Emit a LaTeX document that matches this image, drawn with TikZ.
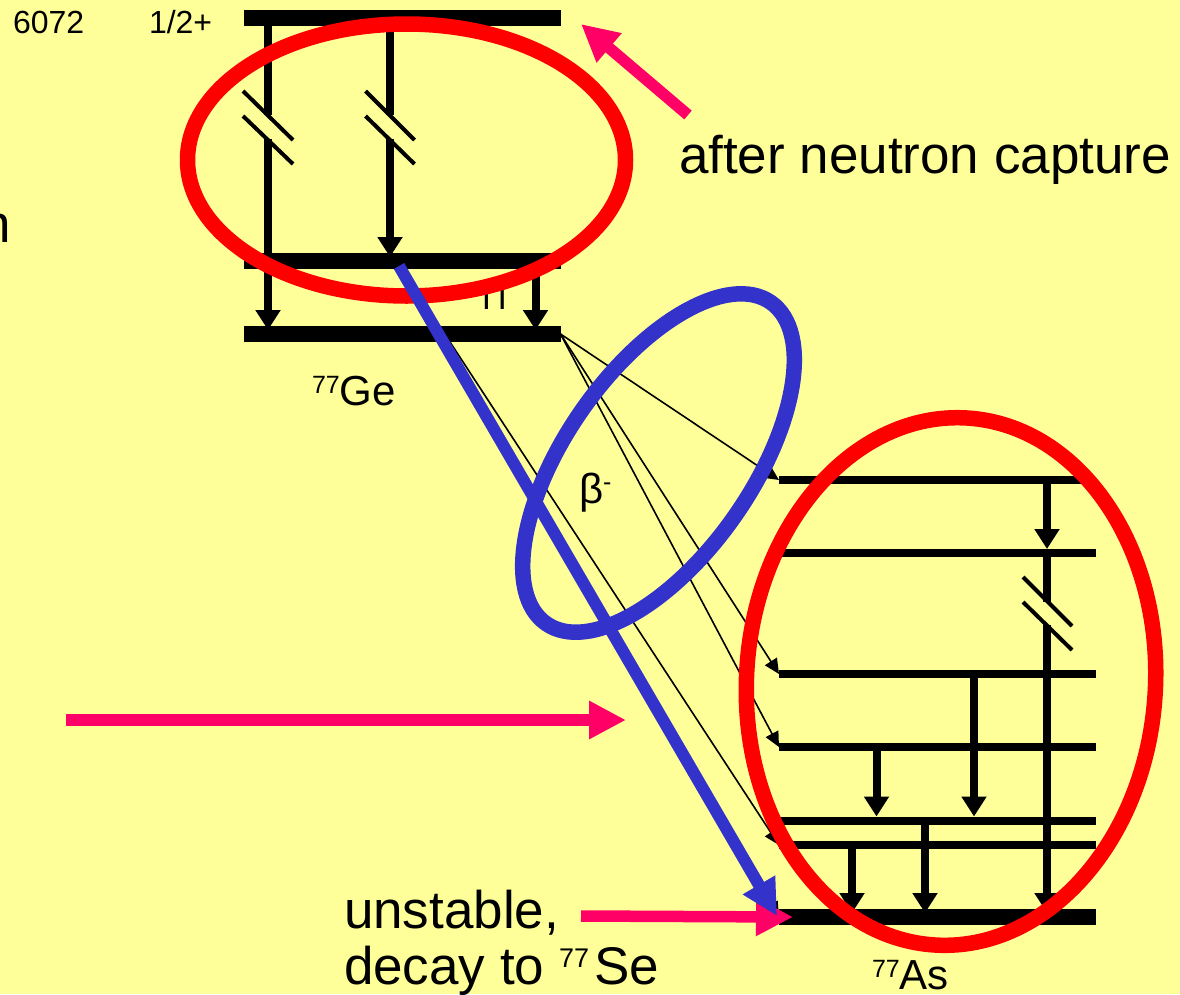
\documentclass[tikz,border=0pt]{standalone}
\usepackage{fontspec}
\setmainfont{Liberation Sans}
\usetikzlibrary{arrows.meta,shapes.geometric}
\definecolor{bgy}{HTML}{FFFF99}
\definecolor{pinkarrow}{HTML}{FF0066}
\definecolor{bluering}{HTML}{3333CC}
\newcommand{\fsz}[1]{\fontsize{#1}{#1}\selectfont}
\newcommand{\supn}[2]{\raisebox{#2}{\fsz{25}#1}}
\tikzset{
  lvl/.style={fill=black,inner sep=0pt,outer sep=0pt,minimum width=316.5pt,anchor=west},
  thicklvl/.style={lvl,minimum height=16pt},
  thinlvl/.style={lvl,minimum height=8pt},
  gam/.style={line width=8pt,-{Triangle[length=20pt,width=24pt]}},
  gamlong/.style={gam,shorten >=-4pt},
  gamplain/.style={line width=8pt},
  brk/.style={line width=4pt},
  betaline/.style={line width=1.6pt,-{Triangle[length=15pt,width=14pt]}},
  ring/.style={ellipse,draw,line width=15.5pt,inner sep=0pt,outer sep=0pt},
  pinka/.style={pinkarrow,line width=11.5pt,-{Triangle[length=37pt,width=36pt]}},
  bluea/.style={bluering,line width=12pt,-{Triangle[length=36pt,width=35pt]}},
  txt/.style={inner sep=0pt,outer sep=0pt,anchor=base west,text=black},
  small/.style={txt,font=\fsz{32}},
  mid/.style={txt,font=\fsz{42}},
  big/.style={txt,font=\fsz{53}},
}
\begin{document}
\begin{tikzpicture}[x=1pt,y=-1pt]
\useasboundingbox (0,0) rectangle (1180,994);
\fill[bgy] (0,0) rectangle (1180,994);

% text
\node[small] (e) at (13,33) {6072};
\node[small] (jp) at (149,33) {1/2+};
\node[big,anchor=base east] (clipn) at (11,242) {n};
\node[small,font=\fsz{34}] (pi) at (482,309) {Π};
\node[mid] (ge) at (312,405) {\supn{77}{12pt}Ge};
\node[mid] (beta) at (579,503) {β\supn{-}{13pt}};
\node[mid] (as) at (872,989) {\supn{77}{12pt}As};
\node[big] (cap) at (679,173) {after neutron capture};
\node[big] (un) at (344,928) {unstable,};
\node[big] (dec) at (344,984) {decay to \raisebox{17pt}{\fsz{27}77}\kern5pt Se};

% levels
\node[thicklvl] (g1) at (244,18) {};
\node[thicklvl] (g2) at (244,261) {};
\node[thicklvl] (g3) at (244,334) {};
\node[thinlvl,minimum width=304pt] (a1) at (779,480) {};
\node[thinlvl] (a2) at (779,553) {};
\node[thinlvl] (a3) at (779,674) {};
\node[thinlvl] (a4) at (779,747) {};
\node[thinlvl] (a5) at (779,820.5) {};
\node[thinlvl] (a6) at (779,845) {};
\node[thicklvl] (a7) at (779,917) {};

% breaks on gamma lines
\coordinate (b1a) at (268,115); \coordinate (b1b) at (268,139);
\coordinate (b2a) at (390,115); \coordinate (b2b) at (390,139);
\coordinate (b3a) at (1047,602); \coordinate (b3b) at (1047,625);

% gamma arrows
\draw[gamplain] ([xshift=24pt]g1.west) -- (b1a);
\draw[gamlong] (b1b) -- ([xshift=24pt]g3.north west);
\draw[gamplain] ([xshift=146pt]g1.west) -- (b2a);
\draw[gamlong] (b2b) -- ([xshift=146pt]g2.north west);
\draw[gamlong] ([xshift=291.5pt]g2.west) -- ([xshift=291.5pt]g3.north west);
\draw[gam] ([xshift=268pt]a1.west) -- ([xshift=268pt]a2.north west);
\draw[gamplain] ([xshift=268pt]a2.west) -- (b3a);
\draw[gamlong] (b3b) -- ([xshift=268pt]a7.north west);
\draw[gam] ([xshift=195pt]a3.west) -- ([xshift=195pt]a5.north west);
\draw[gam] ([xshift=97.5pt]a4.west) -- ([xshift=97.5pt]a5.north west);
\draw[gamlong] ([xshift=146pt]a5.west) -- ([xshift=146pt]a7.north west);
\draw[gamlong] ([xshift=73pt]a6.west) -- ([xshift=73pt]a7.north west);

% break marks
\draw[brk] (243,91) -- (293,140);
\draw[brk] (243,116) -- (293,164);
\draw[brk] (365.5,91) -- (414.5,140);
\draw[brk] (365.5,116) -- (414.5,164);
\draw[brk] (1023,577) -- (1072,626);
\draw[brk] (1023,602) -- (1072,650);

% beta feeding lines
\draw[betaline] (g3.east) -- (a1.west);
\draw[betaline] (g3.east) -- (a3.west);
\draw[betaline] (g3.east) -- (a4.west);
\coordinate (gb) at ([xshift=153pt]g2.west);
\draw[betaline] (gb) -- (a6.west);
\draw[betaline] (gb) -- (a7.west);

% rings
\node[ring,draw=red,minimum width=438pt,minimum height=272pt] (r1) at (406.5,160) {};
\node[ring,draw=red,minimum width=409pt,minimum height=528pt,rotate=-3.5] (r2) at (951,681.5) {};
\node[ring,draw=bluering,minimum width=392pt,minimum height=186pt,rotate=55] (r3) at (658.5,463) {};

% pink pointers
\coordinate (p1s) at (688,115); \coordinate (p1e) at (581,24);
\coordinate (p2s) at (66,720); \coordinate (p2e) at (626,720);
\coordinate (p3s) at (581,916);
\draw[pinka] (p1s) -- (p1e);
\draw[pinka] (p2s) -- (p2e);
\draw[pinka] (p3s) -- ([xshift=14pt]a7.west);

% decay arrow
\draw[bluea] ([xshift=155pt,yshift=-5pt]g2.west) -- ([xshift=-2pt,yshift=1pt]a7.west);
\end{tikzpicture}
\end{document}
